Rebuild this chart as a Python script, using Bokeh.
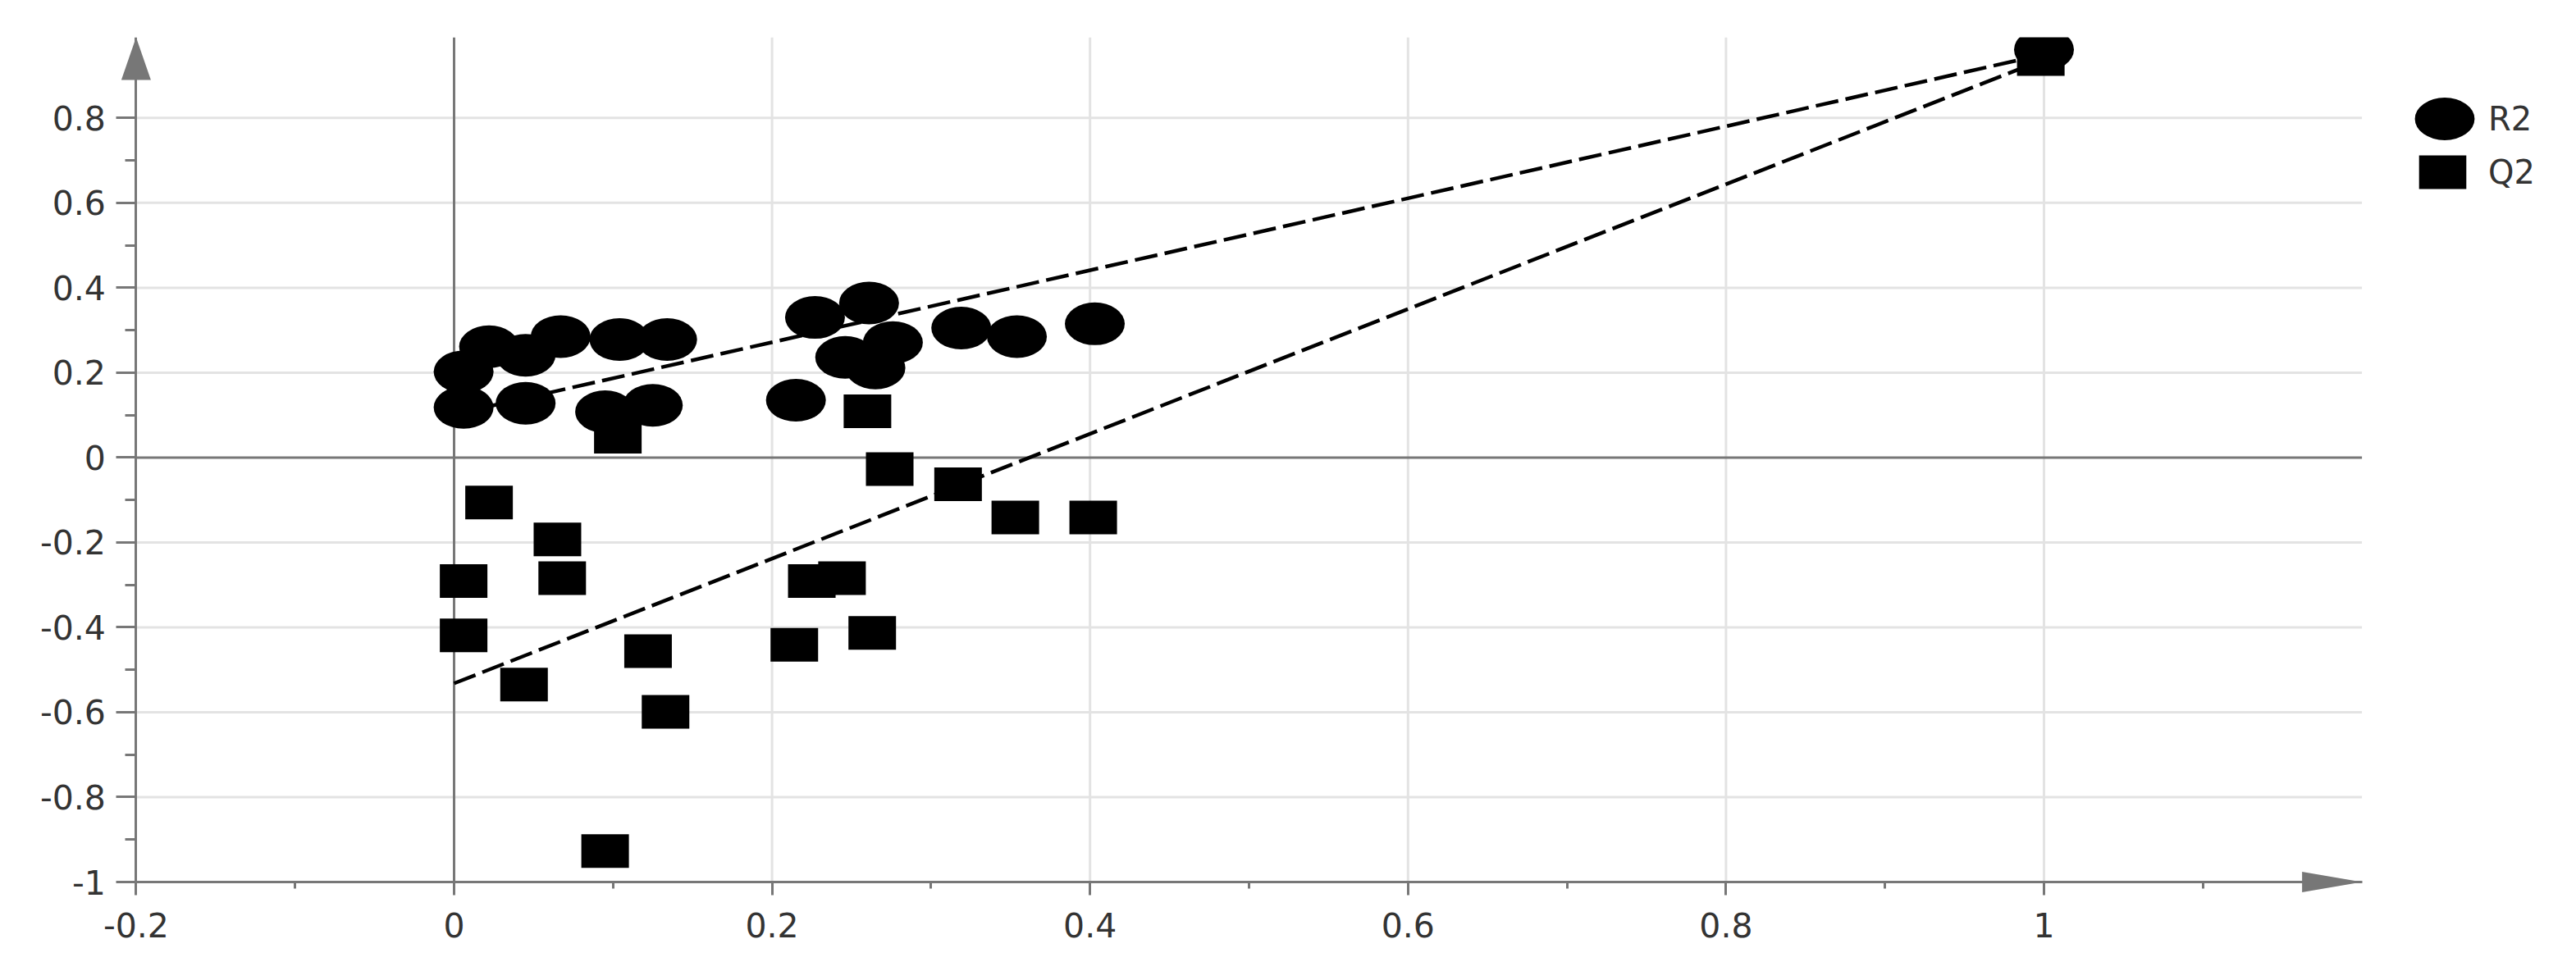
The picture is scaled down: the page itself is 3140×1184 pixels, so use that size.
from bokeh.plotting import figure
from bokeh.models import FixedTicker, Legend, LegendItem
from bokeh.embed import file_html
from bokeh.resources import INLINE

# ---- data ----
r2_x = [0.006, 0.006, 0.022, 0.045, 0.067, 0.045, 0.104, 0.134, 0.095, 0.125,
        0.215, 0.227, 0.261, 0.246, 0.265, 0.276, 0.319, 0.354, 0.403, 1.0]
r2_y = [0.202, 0.118, 0.261, 0.241, 0.285, 0.128, 0.278, 0.278, 0.108, 0.123,
        0.135, 0.330, 0.364, 0.236, 0.211, 0.271, 0.305, 0.285, 0.315, 0.961]
q2_x = [0.006, 0.006, 0.022, 0.065, 0.068, 0.044, 0.103, 0.122, 0.133, 0.095,
        0.225, 0.244, 0.214, 0.263, 0.260, 0.274, 0.317, 0.353, 0.402, 0.998]
q2_y = [-0.291, -0.419, -0.106, -0.193, -0.284, -0.535, 0.049, -0.456, -0.599, -0.927,
        -0.291, -0.284, -0.441, -0.413, 0.109, -0.027, -0.063, -0.141, -0.141, 0.939]
line_x = [0.0, 1.0]
r2_line = [0.102, 0.950]
q2_line = [-0.532, 0.938]

x_ticks = [-0.2, 0.0, 0.2, 0.4, 0.6, 0.8, 1.0]
x_tick_labels = ["-0.2", "0", "0.2", "0.4", "0.6", "0.8", "1"]
x_minor = [-0.1, 0.1, 0.3, 0.5, 0.7, 0.9, 1.1]
y_ticks = [-1.0, -0.8, -0.6, -0.4, -0.2, 0.0, 0.2, 0.4, 0.6, 0.8]
y_tick_labels = ["-1", "-0.8", "-0.6", "-0.4", "-0.2", "0", "0.2", "0.4", "0.6", "0.8"]
y_minor = [-0.9, -0.7, -0.5, -0.3, -0.1, 0.1, 0.3, 0.5, 0.7]
x_axis_bounds = (-0.2, 1.2)
y_axis_bounds = (-1.0, 0.99)

# ---- layout (the plotting frame fills the canvas below its top edge) ----
W, H = 3124, 1168
PXX = 1938.0       # pixels per x unit
PXY = 517.59       # pixels per y unit
X_LEFT_PX = 165.4  # where x = -0.2 sits
Y_BOTTOM_PX = 1075 # where y = -1 sits
TOP = 45           # frame top (where y = 0.99 sits)
XL = x_axis_bounds[0] - X_LEFT_PX / PXX
XR = x_axis_bounds[0] + (W - X_LEFT_PX) / PXX
YB = y_axis_bounds[0] - (H - Y_BOTTOM_PX) / PXY
YT = y_axis_bounds[1]

AX = "#777777"
GRID = "#e3e3e3"
TXT = "#333333"
FONT = "DejaVu Sans"

p = figure(width=W, height=H, x_range=(XL, XR), y_range=(YB, YT),
           output_backend="svg", toolbar_location=None,
           min_border_left=0, min_border_right=0, min_border_bottom=0,
           min_border_top=TOP)
p.outline_line_color = None
p.xgrid.visible = False
p.ygrid.visible = False

for ax, ticks, labels, minor, tout, mout, stand in (
        (p.xaxis, x_ticks, x_tick_labels, x_minor, 16, 8, 21),
        (p.yaxis, y_ticks, y_tick_labels, y_minor, 24, 13, 13)):
    ax.ticker = FixedTicker(ticks=ticks, minor_ticks=minor)
    ax.major_label_overrides = {t: l for t, l in zip(ticks, labels)}
    ax.axis_line_color = AX
    ax.axis_line_width = 3
    ax.major_tick_line_color = AX
    ax.major_tick_line_width = 3
    ax.minor_tick_line_color = AX
    ax.minor_tick_line_width = 3
    ax.major_tick_in = 0
    ax.minor_tick_in = 0
    ax.major_tick_out = tout
    ax.minor_tick_out = mout
    ax.major_label_standoff = stand
    ax.major_label_text_font = FONT
    ax.major_label_text_font_size = "41px"
    ax.major_label_text_color = TXT

p.xaxis.fixed_location = y_axis_bounds[0]
p.xaxis.bounds = x_axis_bounds
p.yaxis.fixed_location = x_axis_bounds[0]
p.yaxis.bounds = y_axis_bounds

# grid lines (light) at the major ticks, zero lines (dark)
gx = [t for t in x_ticks if t not in (x_axis_bounds[0], 0.0)]
gy = [t for t in y_ticks if t not in (y_axis_bounds[0], 0.0)]
p.segment(x0=gx, y0=[y_axis_bounds[0]] * len(gx), x1=gx, y1=[y_axis_bounds[1]] * len(gx),
          line_color=GRID, line_width=3, level="underlay")
p.segment(x0=[x_axis_bounds[0]] * len(gy), y0=gy, x1=[x_axis_bounds[1]] * len(gy), y1=gy,
          line_color=GRID, line_width=3, level="underlay")
p.segment(x0=[0.0], y0=[y_axis_bounds[0]], x1=[0.0], y1=[y_axis_bounds[1]],
          line_color=AX, line_width=3, level="underlay")
p.segment(x0=[x_axis_bounds[0]], y0=[0.0], x1=[x_axis_bounds[1]], y1=[0.0],
          line_color=AX, line_width=3, level="underlay")

# axis arrow heads
ax0, ay1 = x_axis_bounds[0], y_axis_bounds[1]
p.patch([ax0 - 18 / PXX, ax0, ax0 + 18 / PXX], [ay1 - 52 / PXY, ay1, ay1 - 52 / PXY],
        fill_color=AX, line_color=None)
bx1, by0 = x_axis_bounds[1], y_axis_bounds[0]
p.patch([bx1 - 73 / PXX, bx1, bx1 - 73 / PXX], [by0 - 12.5 / PXY, by0, by0 + 12.5 / PXY],
        fill_color=AX, line_color=None)

r2 = p.ellipse(x=r2_x, y=r2_y, width=73, height=52, width_units="screen",
               height_units="screen", fill_color="black", line_color=None)
q2 = p.rect(x=q2_x, y=q2_y, width=58, height=41, width_units="screen",
            height_units="screen", fill_color="black", line_color=None)

p.line(line_x, r2_line, line_color="black", line_width=4.5, line_dash="28 9")
p.line(line_x, q2_line, line_color="black", line_width=4.5, line_dash="28 9")

common = dict(border_line_color=None, background_fill_alpha=0, padding=0, margin=0,
              spacing=0, label_text_font=FONT, label_text_font_size="40px",
              label_text_color=TXT)
leg1 = Legend(items=[LegendItem(label="R2", renderers=[r2], index=0)],
              location=(2934, 978), glyph_width=91, glyph_height=91,
              label_standoff=8, **common)
leg2 = Legend(items=[LegendItem(label="Q2", renderers=[q2], index=0)],
              location=(2941, 933), glyph_width=72, glyph_height=51,
              label_standoff=20, **common)
p.add_layout(leg1)
p.add_layout(leg2)

open("out.html", "w").write(file_html(p, INLINE))
